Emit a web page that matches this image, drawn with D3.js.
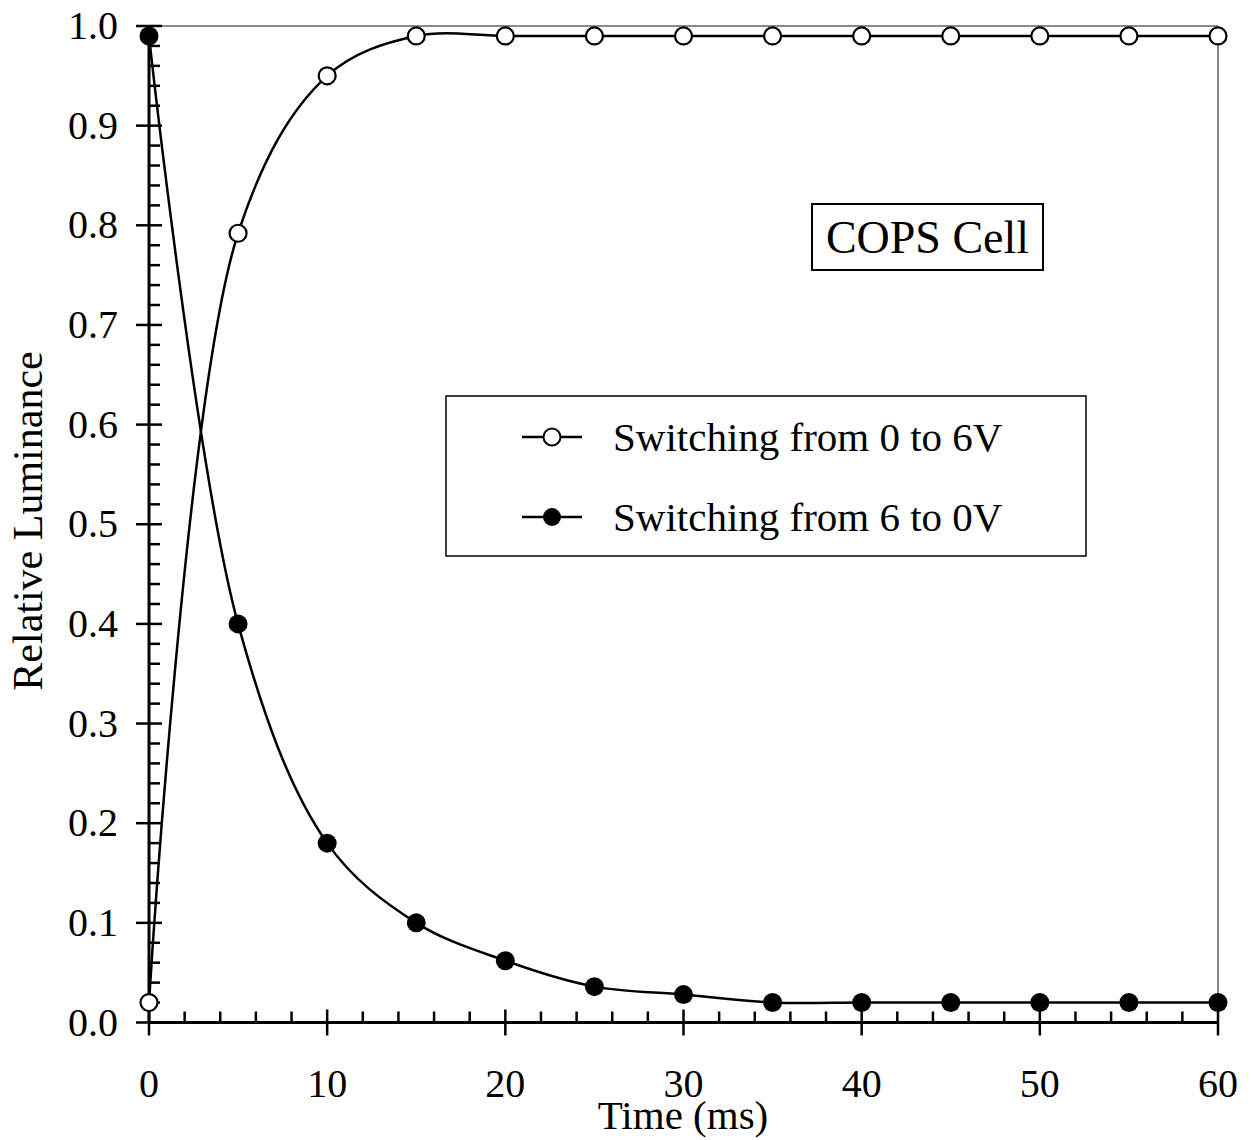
<!DOCTYPE html>
<html><head><meta charset="utf-8">
<script src="https://cdn.jsdelivr.net/npm/d3@7"></script>
<style>body{margin:0;background:#fff}text{font-family:"Liberation Serif","Times New Roman",serif;fill:#000}</style>
</head><body>
<svg id="c" width="1251" height="1140"></svg>
<script>
const times = [0,5,10,15,20,25,30,35,40,45,50,55,60];
const onValues = [0.02,0.792,0.95,0.99,0.99,0.99,0.99,0.99,0.99,0.99,0.99,0.99,0.99];
const offValues = [0.99,0.40,0.18,0.10,0.062,0.036,0.028,0.020,0.020,0.020,0.020,0.020,0.020];
const xTicks = [0,10,20,30,40,50,60];
const yTicks = [0,0.1,0.2,0.3,0.4,0.5,0.6,0.7,0.8,0.9,1.0];
const seriesNames = ["Switching from 0 to 6V","Switching from 6 to 0V"];
const xTitle = "Time (ms)", yTitle = "Relative Luminance", boxLabel = "COPS Cell";

const svg = d3.select("#c");
const x = d3.scaleLinear().domain([0,60]).range([149,1218]);
const y = d3.scaleLinear().domain([0,1]).range([1022.5,26]);

// frame top/right (gray)
svg.append("line").attr("x1",x(0)).attr("x2",x(60)).attr("y1",y(1)).attr("y2",y(1)).attr("stroke","#8a8a8a").attr("stroke-width",2);
svg.append("line").attr("x1",x(60)).attr("x2",x(60)).attr("y1",y(1)).attr("y2",y(0)).attr("stroke","#8a8a8a").attr("stroke-width",2);

// minor ticks
const xMinor = d3.range(0,61,2).filter(v=>v%10!==0);
const yMinor = d3.range(0,51,1).map(v=>v/50).filter(v=>Math.abs(v*10-Math.round(v*10))>1e-6);
svg.append("g").selectAll("line").data(xMinor).join("line")
  .attr("x1",d=>x(d)).attr("x2",d=>x(d)).attr("y1",y(0)).attr("y2",y(0)-11)
  .attr("stroke","#000").attr("stroke-width",2.5);
svg.append("g").selectAll("line").data(yMinor).join("line")
  .attr("y1",d=>y(d)).attr("y2",d=>y(d)).attr("x1",x(0)).attr("x2",x(0)+11)
  .attr("stroke","#000").attr("stroke-width",2.5);
// major ticks (crossing)
svg.append("g").selectAll("line").data(xTicks).join("line")
  .attr("x1",d=>x(d)).attr("x2",d=>x(d)).attr("y1",y(0)-13).attr("y2",y(0)+13)
  .attr("stroke","#000").attr("stroke-width",2.5);
svg.append("g").selectAll("line").data(yTicks).join("line")
  .attr("y1",d=>y(d)).attr("y2",d=>y(d)).attr("x1",x(0)-13).attr("x2",x(0)+13)
  .attr("stroke","#000").attr("stroke-width",2.5);
// axis lines
svg.append("line").attr("x1",x(0)).attr("x2",x(60)).attr("y1",y(0)).attr("y2",y(0)).attr("stroke","#000").attr("stroke-width",3);
svg.append("line").attr("x1",x(0)).attr("x2",x(0)).attr("y1",y(0)).attr("y2",y(1)).attr("stroke","#000").attr("stroke-width",3);

// tick labels
svg.append("g").selectAll("text").data(xTicks).join("text")
  .attr("x",d=>x(d)).attr("y",1097).attr("text-anchor","middle").attr("font-size",40)
  .text(d=>d3.format("d")(d));
svg.append("g").selectAll("text").data(yTicks).join("text")
  .attr("x",118).attr("y",d=>y(d)+13).attr("text-anchor","end").attr("font-size",40)
  .text(d=>d3.format(".1f")(d));

// titles
svg.append("text").attr("x",683).attr("y",1129).attr("text-anchor","middle").attr("font-size",41).text(xTitle);
svg.append("text").attr("transform","translate(42,521) rotate(-90)").attr("text-anchor","middle").attr("font-size",42).text(yTitle);

// curves
const line = d3.line().x(d=>x(d[0])).y(d=>y(d[1])).curve(d3.curveCatmullRom.alpha(0.5));
const onData = times.map((t,i)=>[t,onValues[i]]);
const offData = times.map((t,i)=>[t,offValues[i]]);
svg.append("path").attr("d",line(onData)).attr("fill","none").attr("stroke","#000").attr("stroke-width",2.5);
svg.append("path").attr("d",line(offData)).attr("fill","none").attr("stroke","#000").attr("stroke-width",2.5);
svg.append("g").selectAll("circle").data(onData).join("circle")
  .attr("cx",d=>x(d[0])).attr("cy",d=>y(d[1])).attr("r",8.5).attr("fill","#fff").attr("stroke","#000").attr("stroke-width",2.2);
svg.append("g").selectAll("circle").data(offData).join("circle")
  .attr("cx",d=>x(d[0])).attr("cy",d=>y(d[1])).attr("r",9.5).attr("fill","#000");

// COPS Cell box
svg.append("rect").attr("x",812).attr("y",204).attr("width",231).attr("height",66).attr("fill","#fff").attr("stroke","#000").attr("stroke-width",2);
svg.append("text").attr("x",927.5).attr("y",253).attr("text-anchor","middle").attr("font-size",46).text(boxLabel);

// legend
svg.append("rect").attr("x",446).attr("y",396).attr("width",640).attr("height",160).attr("fill","#fff").attr("stroke","#000").attr("stroke-width",1.5);
const lg = svg.append("g").selectAll("g").data(seriesNames).join("g")
  .attr("transform",(d,i)=>`translate(0,${437+i*80})`);
lg.append("line").attr("x1",522).attr("x2",582).attr("y1",0).attr("y2",0).attr("stroke","#000").attr("stroke-width",2.5);
lg.append("circle").attr("cx",552).attr("cy",0).attr("r",(d,i)=>i?9:8.5)
  .attr("fill",(d,i)=>i?"#000":"#fff").attr("stroke","#000").attr("stroke-width",(d,i)=>i?0:2);
lg.append("text").attr("x",613).attr("y",14).attr("font-size",41).text(d=>d);
</script>
</body></html>
